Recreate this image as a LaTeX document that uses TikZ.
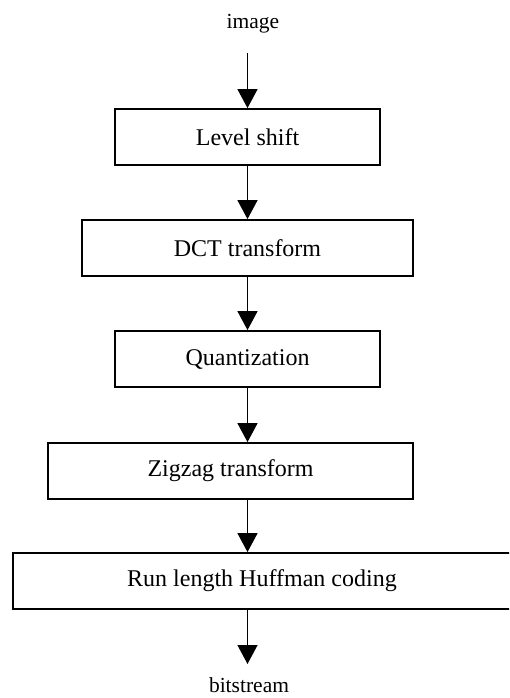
\documentclass[tikz,border=0pt]{standalone}
\usepackage{fontspec}
\setmainfont{Liberation Serif}
\usetikzlibrary{arrows.meta}
\begin{document}
\begin{tikzpicture}[x=1pt,y=-1pt,
  stagebox/.style={draw, line width=1.8pt, inner sep=0pt, minimum height=56pt,
    font=\fontsize{24}{28}\selectfont},
  label/.style={inner sep=0pt, anchor=base, font=\fontsize{21.5}{25}\selectfont},
  flow/.style={line width=1.3pt, -{Triangle[width=20pt,length=19pt]}}]
  \useasboundingbox (0,0) rectangle (509,698);
  \clip (0,0) rectangle (509,698);

  % labels at the ends of the chain
  \node[label] (img) at (253,29) {image};
  \node[label] (bits) at (249,692) {bitstream};
  \coordinate (src) at (247.5,53);
  \coordinate (dst) at (247.5,664);

  % processing stages
  \node[stagebox, minimum width=265pt] (shift) at (247.5,137) {Level shift};
  \node[stagebox, minimum width=331pt] (dct)   at (247.5,248) {DCT transform};
  \node[stagebox, minimum width=265pt] (quant) at (247.5,359) {Quantization};
  \node[stagebox, minimum width=365pt] (zz)    at (230.5,471) {Zigzag transform};
  \node[stagebox, minimum width=498pt] (huff)  at (262,581)   {Run length Huffman coding};

  % connectors
  \draw[flow] (src) -- (shift.north);
  \draw[flow] (shift.south) -- (dct.north);
  \draw[flow] (dct.south) -- (quant.north);
  \draw[flow] (quant.south) -- (quant.south |- zz.north);
  \draw[flow] (zz.south -| quant.south) -- (huff.north -| quant.south);
  \draw[flow] (huff.south -| quant.south) -- (dst);
\end{tikzpicture}
\end{document}
